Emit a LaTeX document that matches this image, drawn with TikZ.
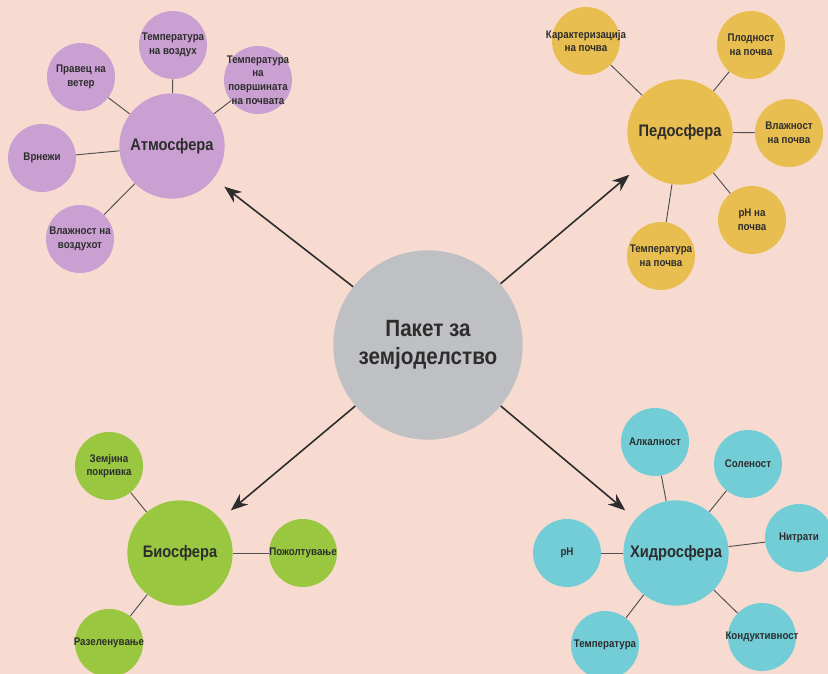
\documentclass[tikz,border=0pt]{standalone}
\usepackage{fontspec}
\setmainfont[FakeStretch=0.88]{Liberation Sans}
\usetikzlibrary{arrows.meta}

\definecolor{bgpink}{RGB}{248,219,208}
\definecolor{hubgray}{RGB}{190,192,195}
\definecolor{atmocol}{RGB}{201,160,209}
\definecolor{pedocol}{RGB}{233,190,80}
\definecolor{biocol}{RGB}{153,200,64}
\definecolor{hydrocol}{RGB}{115,205,215}
\definecolor{ink}{RGB}{45,45,45}
\definecolor{linegray}{RGB}{80,80,80}

\tikzset{
	hub/.style={circle,fill=hubgray,minimum size=142pt,inner sep=0pt,align=center,text=ink,font=\bfseries\fontsize{17.6}{21}\selectfont},
	sphere/.style={circle,minimum size=79pt,inner sep=0pt,text=ink,font=\bfseries\fontsize{12.5}{14}\selectfont},
	leaf/.style={circle,minimum size=51pt,inner sep=0pt},
	leaftext/.style={align=center,inner sep=0pt,text=ink,font=\bfseries\fontsize{8.3}{10.2}\selectfont},
	link/.style={draw=linegray,line width=0.7pt},
	feed/.style={draw=ink,line width=1.2pt,-{Stealth[length=13pt,width=10pt]},shorten >=10pt}
}

\begin{document}
\begin{tikzpicture}[x=0.75pt,y=-0.75pt]
	\useasboundingbox[fill=bgpink] (0,0) rectangle (828,674);
	\clip (0,0) rectangle (828,674);

	\node[hub] (hub) at (428,345) {Пакет за\\земјоделство};

	\node[sphere,fill=atmocol] (atm) at (172,146) {Атмосфера};
	\node[sphere,fill=pedocol] (ped) at (680,132) {Педосфера};
	\node[sphere,fill=biocol] (bio) at (180,553) {Биосфера};
	\node[sphere,fill=hydrocol] (hyd) at (676,553) {Хидросфера};

	\foreach \n/\x/\y/\t in {a1/173/45/{Температура\\на воздух}, a2/81/77/{Правец на\\ветер}, a3/258/80/{Температура\\на\\површината\\на почвата}, a4/42/158/{Врнежи}, a5/80/239/{Влажност на\\воздухот}}{
		\node[leaf,fill=atmocol] (\n) at (\x,\y) {};
		\node[leaftext] (\n txt) at (\n) {\t};
		\draw[link] (atm) -- (\n);
	}

	\foreach \n/\x/\y/\t in {p1/586/41/{Карактеризација\\на почва}, p2/751/45/{Плодност\\на почва}, p3/789/133/{Влажност\\на почва}, p4/752/220/{pH на\\почва}, p5/661/256/{Температура\\на почва}}{
		\node[leaf,fill=pedocol] (\n) at (\x,\y) {};
		\node[leaftext] (\n txt) at (\n) {\t};
		\draw[link] (ped) -- (\n);
	}

	\foreach \n/\x/\y/\t in {b1/109/466/{Земјина\\покривка}, b2/303/553/{Пожолтување}, b3/109/643/{Разеленување}}{
		\node[leaf,fill=biocol] (\n) at (\x,\y) {};
		\node[leaftext] (\n txt) at (\n) {\t};
		\draw[link] (bio) -- (\n);
	}

	\foreach \n/\x/\y/\t in {h1/655/442/{Алкалност}, h2/748/464/{Соленост}, h3/799/538/{Нитрати}, h4/567/553/{pH}, h5/605/645/{Температура}, h6/762/637/{Кондуктивност}}{
		\node[leaf,fill=hydrocol] (\n) at (\x,\y) {};
		\node[leaftext] (\n txt) at (\n) {\t};
		\draw[link] (hyd) -- (\n);
	}

	\draw[feed] (hub) -- (atm);
	\draw[feed] (hub) -- (ped);
	\draw[feed] (hub) -- (bio);
	\draw[feed] (hub) -- (hyd);
\end{tikzpicture}
\end{document}
